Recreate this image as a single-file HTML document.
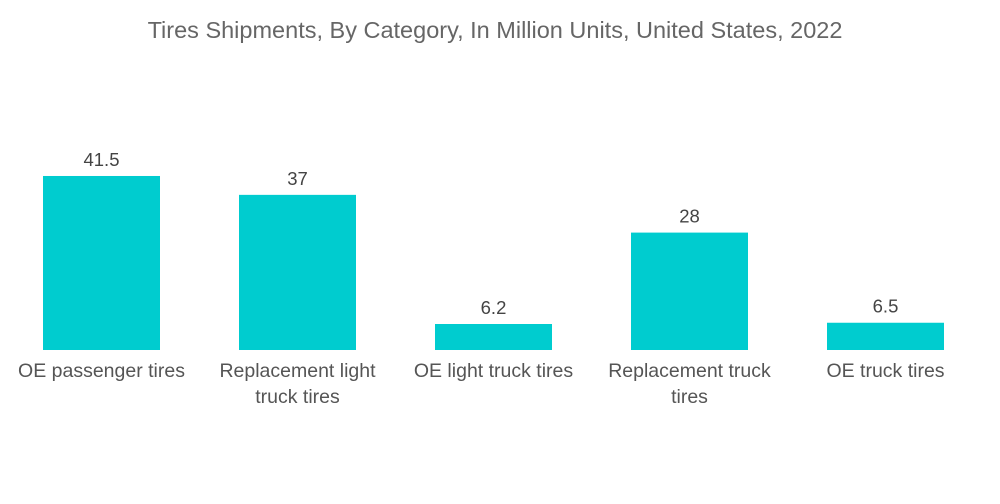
<!DOCTYPE html>
<html><head><meta charset="utf-8"><style>
body{margin:0;background:#fff;}
svg{display:block;font-family:"Liberation Sans",sans-serif;}
</style></head><body>
<svg id="chart" width="1000" height="504">
<text x="495" y="38" text-anchor="middle" font-size="23.5" fill="#666">Tires Shipments, By Category, In Million Units, United States, 2022</text>
<g id="bars"></g>
</svg>
<script>
const categories = [["OE passenger tires"],["Replacement light","truck tires"],["OE light truck tires"],["Replacement truck","tires"],["OE truck tires"]];
const values = [41.5, 37, 6.2, 28, 6.5];
const valueLabels = ["41.5","37","6.2","28","6.5"];
const baseY = 350, pxPerUnit = 4.193, x0 = 101.5, step = 196, bw = 117;
function xScale(i){return x0 + i*step;}
function yScale(v){return baseY - v*pxPerUnit;}
const g = document.getElementById('bars');
const NS = "http://www.w3.org/2000/svg";
values.forEach((v,i)=>{
  const cx = xScale(i);
  const r = document.createElementNS(NS,'rect');
  r.setAttribute('x', cx-bw/2); r.setAttribute('y', yScale(v));
  r.setAttribute('width', bw); r.setAttribute('height', baseY - yScale(v));
  r.setAttribute('fill', '#00CCCF');
  
  
  g.appendChild(r);
  const t = document.createElementNS(NS,'text');
  t.setAttribute('x', cx); t.setAttribute('y', yScale(v)-10);
  t.setAttribute('text-anchor','middle'); t.setAttribute('font-size','18.5'); t.setAttribute('fill','#444');
  t.textContent = valueLabels[i];
  
  
  g.appendChild(t);
  categories[i].forEach((line,j)=>{
    const c = document.createElementNS(NS,'text');
    c.setAttribute('x', cx); c.setAttribute('y', 377 + j*26);
    c.setAttribute('text-anchor','middle'); c.setAttribute('font-size','19.5'); c.setAttribute('fill','#555');
    c.textContent = line;
    
    
    g.appendChild(c);
  });
});
</script>
</body></html>
